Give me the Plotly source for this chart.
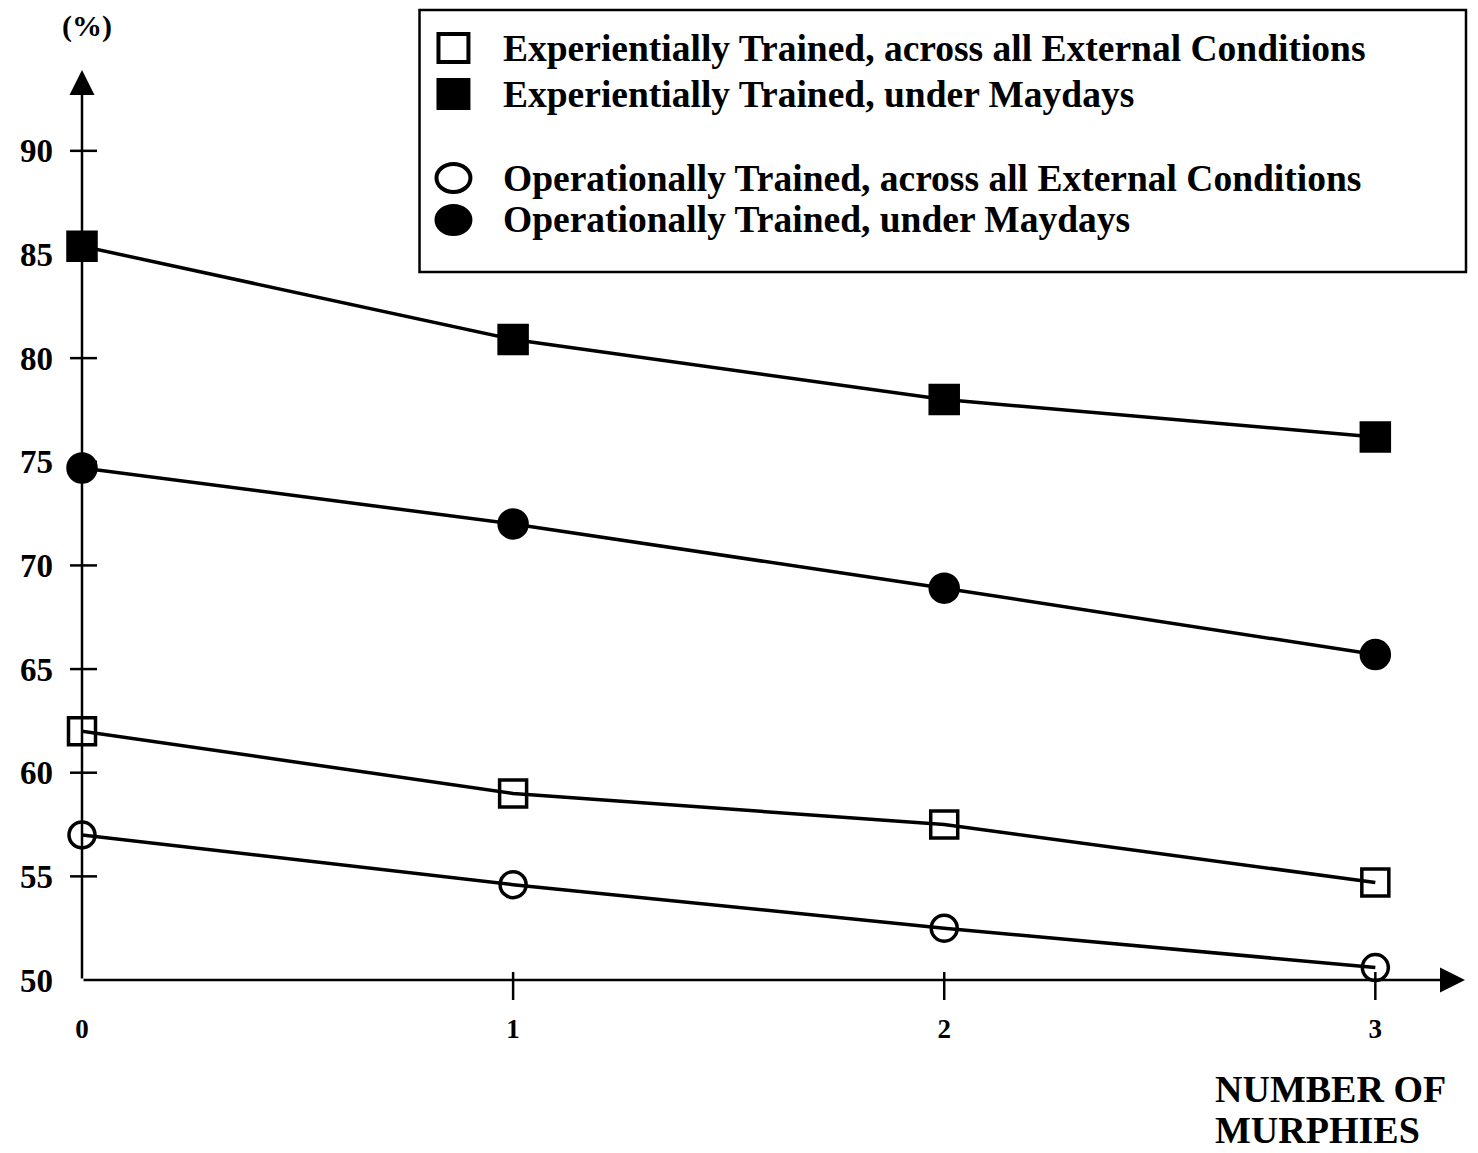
import plotly.graph_objects as go

murphies = [0, 1, 2, 3]
x_tick_labels = ["0", "1", "2", "3"]
y_ticks = [50, 55, 60, 65, 70, 75, 80, 85, 90]

exp_all = [62.0, 59.0, 57.5, 54.7]
exp_mayday = [85.4, 80.9, 78.0, 76.2]
op_all = [57.0, 54.6, 52.5, 50.6]
op_mayday = [74.7, 72.0, 68.9, 65.7]

legend_names = [
    "Experientially Trained, across all External Conditions",
    "Experientially Trained, under Maydays",
    "Operationally Trained, across all External Conditions",
    "Operationally Trained, under Maydays",
]

FONT = "Liberation Serif"
W, H = 1470, 1145
L, R, T, B = 72, 13, 62, 173
PW, PH = W - L - R, H - T - B


def px(fx):
    return (fx - L) / PW


def py(fy):
    return (H - B - fy) / PH


fig = go.Figure()

series = [
    (exp_all, "square-open", 27),
    (exp_mayday, "square", 28),
    (op_all, "circle-open", 26),
    (op_mayday, "circle", 28),
]

for vals, sym, sz in series:
    fig.add_trace(go.Scatter(
        x=murphies, y=vals, mode="lines+markers",
        line=dict(color="black", width=3.5),
        marker=dict(symbol=sym, size=sz, color="black", line=dict(color="black", width=3.5)),
        showlegend=False, cliponaxis=False,
    ))

XMAX = 3.208
YMAX = 93.9

# tick marks crossing the axes
for t in y_ticks[1:]:
    fig.add_shape(type="line", xref="paper", yref="y", x0=px(L - 12), x1=px(L + 15), y0=t, y1=t,
                  line=dict(color="black", width=2.5))
for t in murphies[1:]:
    fig.add_shape(type="line", xref="x", yref="paper", x0=t, x1=t, y0=py(H - B - 8), y1=py(H - B + 20),
                  line=dict(color="black", width=2.5))

# axis arrows
fig.add_annotation(x=0, y=YMAX, ax=0, ay=50, xref="x", yref="y", axref="x", ayref="y",
                   showarrow=True, arrowhead=2, arrowsize=2, arrowwidth=2.5, arrowcolor="black", text="")
fig.add_annotation(x=XMAX, y=50, ax=0, ay=50, xref="x", yref="y", axref="x", ayref="y",
                   showarrow=True, arrowhead=2, arrowsize=2, arrowwidth=2.5, arrowcolor="black", text="")

# legend (manual, boxed)
fig.add_shape(type="rect", xref="paper", yref="paper", x0=px(410), x1=px(1458), y0=py(2), y1=py(264),
              line=dict(color="black", width=2.5), fillcolor="white", layer="below")
legend_rows = [40, 86, 170, 212]
for (vals, sym, sz), name, fy in zip(series, legend_names, legend_rows):
    cx = 444
    if "square" in sym:
        fig.add_shape(type="rect", xref="paper", yref="paper",
                      x0=px(cx - 15), x1=px(cx + 15), y0=py(fy - 14), y1=py(fy + 14),
                      line=dict(color="black", width=4),
                      fillcolor="black" if sym == "square" else "white")
    else:
        fig.add_shape(type="circle", xref="paper", yref="paper",
                      x0=px(cx - 17), x1=px(cx + 17), y0=py(fy - 14), y1=py(fy + 14),
                      line=dict(color="black", width=4),
                      fillcolor="black" if sym == "circle" else "white")
    fig.add_annotation(text=name, xref="paper", yref="paper", x=px(492), y=py(fy),
                       xanchor="left", yanchor="middle", showarrow=False,
                       font=dict(family=FONT, size=37.5, color="black", weight="bold"))

fig.add_annotation(text="<b>(%)</b>", xref="paper", yref="paper", x=px(77), y=py(18), xanchor="center",
                   yanchor="middle", showarrow=False, font=dict(family=FONT, size=30, color="black"))
fig.add_annotation(text="<b>NUMBER OF</b>", xref="paper", yref="paper", x=px(1205), y=py(1081),
                   xanchor="left", yanchor="middle", showarrow=False,
                   font=dict(family=FONT, size=38, color="black"))
fig.add_annotation(text="<b>MURPHIES</b>", xref="paper", yref="paper", x=px(1205), y=py(1122),
                   xanchor="left", yanchor="middle", showarrow=False,
                   font=dict(family=FONT, size=38, color="black"))

fig.update_layout(
    width=W, height=H,
    margin=dict(l=L, r=R, t=T, b=B),
    paper_bgcolor="white", plot_bgcolor="white",
    font=dict(family=FONT, color="black"),
    showlegend=False,
    xaxis=dict(range=[0, XMAX], tickvals=murphies, ticktext=x_tick_labels, showgrid=False,
               zeroline=False, showline=False, ticks="", ticklabelstandoff=30,
               tickfont=dict(family=FONT, size=27, color="black", weight="bold")),
    yaxis=dict(range=[50, YMAX], tickvals=y_ticks, ticktext=[str(v) for v in y_ticks], showgrid=False,
               zeroline=False, showline=False, ticks="", ticklabelstandoff=28,
               tickfont=dict(family=FONT, size=33, color="black", weight="bold")),
)

fig.write_html("out.html")
